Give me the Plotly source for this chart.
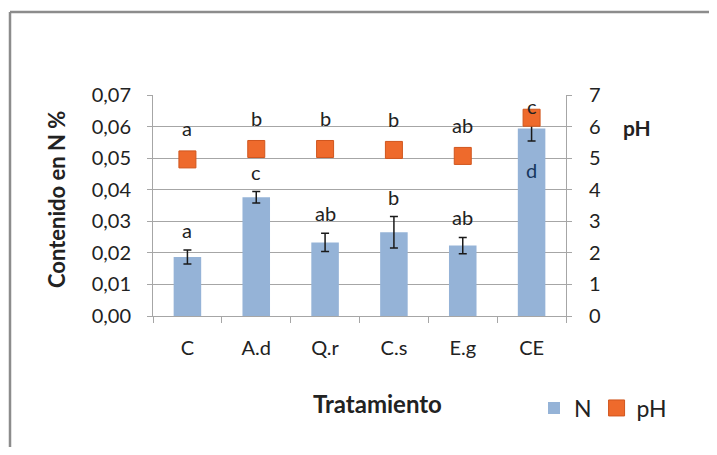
import plotly.graph_objects as go

# 数据
categories = ["C", "A.d", "Q.r", "C.s", "E.g", "CE"]
n_values = [0.0187, 0.0376, 0.0233, 0.0265, 0.0223, 0.0594]
n_errors = [0.0022, 0.0018, 0.0029, 0.0050, 0.0026, 0.0040]
n_letters = ["a", "c", "ab", "b", "ab", "d"]
ph_values = [4.96, 5.29, 5.29, 5.26, 5.07, 6.28]
ph_letters = ["a", "b", "b", "b", "ab", "c"]

FONT = "Lato, Carlito, Calibri, sans-serif"
GRID = "#A6A6A6"
TXT = "#222222"

# 页面默认 body margin 为 8px：图形向左上偏移，并缩小尺寸避免出现滚动条
OFF = 8
PAGE_W, PAGE_H = 717, 455
W, H = PAGE_W - 2 * OFF, PAGE_H - 2 * OFF
# 绘图区在页面中的像素位置
L, R, T, B = 153, 566, 95, 316


def px_x(x):
    return (x - L) / (R - L)


def px_y(y):
    return (B - y) / (B - T)


fig = go.Figure()
fig.add_trace(go.Bar(
    x=categories, y=n_values, name="N",
    marker=dict(color="#95B3D7", line=dict(width=0)),
    error_y=dict(type="data", array=n_errors, color="#1A1A1A", thickness=1.5, width=4),
))
fig.add_trace(go.Scatter(
    x=categories, y=ph_values, name="pH", yaxis="y2", mode="markers",
    marker=dict(symbol="square", size=17, color="#EE6A2C", line=dict(color="#D0561E", width=1)),
))

annotations = []
# N 字母标注
for i, (c, v, e, lt) in enumerate(zip(categories, n_values, n_errors, n_letters)):
    if i == len(categories) - 1:
        # CE 的字母放在柱子内部
        annotations.append(dict(x=c, y=v, xref="x", yref="y", text=lt, showarrow=False,
                                yshift=-42, font=dict(size=20, color="#17375E", family=FONT)))
    else:
        annotations.append(dict(x=c, y=v + e, xref="x", yref="y", text=lt, showarrow=False,
                                yshift=20, font=dict(size=20, color=TXT, family=FONT)))
# pH 字母标注
for i, (c, v, lt) in enumerate(zip(categories, ph_values, ph_letters)):
    shift = 12 if i == len(categories) - 1 else 31
    annotations.append(dict(x=c, y=v, xref="x", yref="y2", text=lt, showarrow=False,
                            yshift=shift, font=dict(size=20, color=TXT, family=FONT)))

annotations += [
    dict(x=px_x(56), y=px_y(200), xref="paper", yref="paper", text="<b>Contenido en N %</b>",
         textangle=-90, showarrow=False, xanchor="center", yanchor="middle",
         font=dict(size=22, color=TXT, family=FONT)),
    dict(x=px_x(637), y=px_y(127), xref="paper", yref="paper", text="<b>pH</b>",
         showarrow=False, xanchor="center", yanchor="middle",
         font=dict(size=21, color=TXT, family=FONT)),
    dict(x=px_x(377), y=px_y(403), xref="paper", yref="paper", text="<b>Tratamiento</b>",
         showarrow=False, xanchor="center", yanchor="middle",
         font=dict(size=24, color=TXT, family=FONT)),
]

# 外框（只有左边和上边可见），线段都限制在画布之内
frame = dict(color="#8C8C8C", width=2.5)
shapes = [
    dict(type="line", xref="paper", yref="paper",
         x0=px_x(10), x1=px_x(10), y0=px_y(OFF + H), y1=px_y(12), line=frame),
    dict(type="line", xref="paper", yref="paper",
         x0=px_x(10), x1=px_x(OFF + W), y0=px_y(12), y1=px_y(12), line=frame),
]

fig.update_layout(
    width=W, height=H, autosize=False,
    margin=dict(l=L - OFF, r=W + OFF - R, t=T - OFF, b=H + OFF - B),
    paper_bgcolor="white", plot_bgcolor="white",
    separators=",.",
    font=dict(family=FONT, size=20, color=TXT),
    bargap=0.6,
    showlegend=True,
    legend=dict(orientation="h", x=px_x(534), y=px_y(408), xanchor="left", yanchor="middle",
                font=dict(size=23, family=FONT, color=TXT), bgcolor="rgba(0,0,0,0)",
                itemwidth=30, tracegroupgap=0),
    xaxis=dict(type="category", tickson="boundaries", ticks="outside", ticklen=6,
               tickcolor=GRID, showline=True, linecolor=GRID, showgrid=False,
               ticklabelstandoff=14, tickfont=dict(size=20)),
    yaxis=dict(range=[0, 0.07], dtick=0.01, tickformat=".2f", ticks="outside", ticklen=5,
               tickcolor=GRID, showline=True, linecolor=GRID, gridcolor=GRID, gridwidth=1,
               zeroline=False, ticklabelstandoff=12, tickfont=dict(size=20)),
    yaxis2=dict(range=[0, 7], dtick=1, overlaying="y", side="right", ticks="outside", ticklen=5,
                tickcolor=GRID, showline=True, linecolor=GRID, showgrid=False, zeroline=False,
                ticklabelstandoff=13, tickfont=dict(size=20)),
    annotations=annotations,
    shapes=shapes,
)

fig.write_html("out.html")
